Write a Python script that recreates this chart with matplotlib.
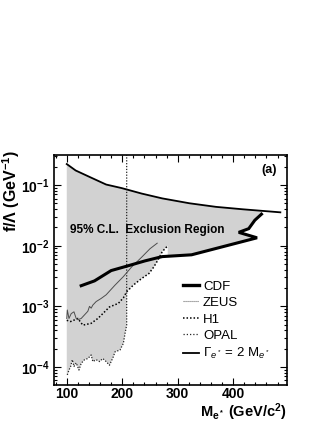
import numpy as np
from matplotlib import pyplot as plt
from matplotlib.ticker import MultipleLocator, LogLocator, FuncFormatter, NullFormatter

plt.rcParams['font.family'] = ['Liberation Sans', 'DejaVu Sans']
plt.rcParams['mathtext.fontset'] = 'custom'
plt.rcParams['mathtext.rm'] = 'Liberation Sans'
plt.rcParams['mathtext.bf'] = 'Liberation Sans:bold'
plt.rcParams['mathtext.it'] = 'Liberation Sans:italic'

# Gamma_e* = 2 M_e* (upper edge of the shaded region)
gamma_m = [100, 116, 142, 171, 199, 235, 272, 321, 369, 418, 485]
gamma_f = [0.222, 0.174, 0.135, 0.102, 0.0891, 0.0724, 0.0603, 0.0501, 0.0437, 0.0398, 0.0355]

# CDF limit
cdf_m = [126, 150, 180, 211, 241, 272, 325, 443, 410, 428, 439, 451]
cdf_f = [0.00219, 0.00263, 0.00389, 0.00468, 0.00562, 0.00661, 0.00708,
         0.0135, 0.0166, 0.0191, 0.0263, 0.0331]

# ZEUS limit
zeus_m = [100, 101, 104, 108, 113, 117, 120, 126, 138, 141, 144, 147, 153, 162, 171,
          187, 202, 217, 235, 250, 263]
zeus_f = [6.31e-4, 8.71e-4, 6.31e-4, 7.59e-4, 8.13e-4, 6.31e-4, 6.03e-4, 6.31e-4,
          8.3e-4, 1.0e-3, 9.33e-4, 1.05e-3, 1.20e-3, 1.35e-3, 1.55e-3,
          2.24e-3, 3.09e-3, 4.47e-3, 6.46e-3, 8.91e-3, 1.10e-2]

# H1 limit
h1_m = [100, 107, 120, 129, 144, 156, 165, 177, 193, 202, 208, 220, 235, 248, 257, 266, 272, 282]
h1_f = [5.89e-4, 5.62e-4, 6.31e-4, 4.90e-4, 5.25e-4, 6.31e-4, 7.59e-4, 9.77e-4, 1.12e-3,
        1.38e-3, 1.74e-3, 2.24e-3, 2.88e-3, 3.47e-3, 4.47e-3, 6.17e-3, 7.94e-3, 1.0e-2]

# OPAL limit (vertical at ~208 GeV up past the top of the frame)
opal_m = [101, 104, 107, 110, 113, 117, 122, 126, 132, 138, 144, 147, 153, 159, 165,
          171, 177, 184, 187, 196, 202, 205, 208, 208]
opal_f = [7.41e-5, 8.91e-5, 1.02e-4, 1.32e-4, 1.02e-4, 1.17e-4, 8.91e-5, 1.15e-4, 1.32e-4,
          1.38e-4, 1.58e-4, 1.23e-4, 1.32e-4, 1.23e-4, 1.38e-4, 1.23e-4, 1.07e-4, 1.48e-4,
          1.78e-4, 1.91e-4, 2.45e-4, 3.55e-4, 4.90e-4, 0.5]


def log_interp(x, xs, ys):
    return 10 ** np.interp(x, xs, np.log10(ys))


def main():
    fig = plt.figure(figsize=(3.27, 4.23), dpi=100)
    ax = fig.add_axes([54 / 327, 1 - 385 / 423, 233 / 327, 230 / 423])

    # shaded exclusion region
    om, of = np.array(opal_m[:-1]), np.array(opal_f[:-1])
    hm, hf = np.array(h1_m), np.array(h1_f)
    cm, cf = np.array(cdf_m), np.array(cdf_f)
    gm, gf = np.array(gamma_m), np.array(gamma_f)
    m_h1_end = hm[-1]
    m_end = cm[-1]
    keep = np.arange(len(cm)) >= np.searchsorted(cm[:7], m_h1_end)
    px = np.concatenate([[100], om, [om[-1]], hm[hm > om[-1]], [m_h1_end],
                         cm[keep], [m_end], gm[gm < m_end][::-1]])
    py = np.concatenate([[of[0]], of, [log_interp(om[-1], hm, hf)], hf[hm > om[-1]],
                         [log_interp(m_h1_end, cm[:7], cf[:7])], cf[keep],
                         [log_interp(m_end, gm, gf)], gf[gm < m_end][::-1]])
    ax.fill(px, py, color='#d2d2d2', lw=0, zorder=1)

    ax.plot(opal_m, opal_f, color='0.15', lw=0.9, ls=(0, (1, 1.3)), zorder=2)
    ax.plot(h1_m, h1_f, color='black', lw=1.1, ls=(0, (1, 1.3)), zorder=2)
    ax.plot(zeus_m, zeus_f, color='0.3', lw=0.7, zorder=2)
    ax.plot(gamma_m, gamma_f, color='black', lw=1.3, zorder=3)
    ax.plot(cdf_m, cdf_f, color='black', lw=2.2, solid_joinstyle='miter', zorder=3)

    # legend
    hcdf, = ax.plot([], [], color='black', lw=2.4)
    hzeus, = ax.plot([], [], color='0.45', lw=0.8, ls=(0, (1, 0.8)))
    hh1, = ax.plot([], [], color='black', lw=1.1, ls=(0, (1, 1.3)))
    hopal, = ax.plot([], [], color='0.15', lw=0.9, ls=(0, (1, 1.6)))
    hgam, = ax.plot([], [], color='black', lw=1.3)
    ax.legend([hcdf, hzeus, hh1, hopal, hgam],
              ['CDF', 'ZEUS', 'H1', 'OPAL', r'$\Gamma_{e^*}$ = 2 M$_{e^*}$'],
              loc='upper left', bbox_to_anchor=(0.555, 0.455), frameon=False,
              fontsize=9.5, handlelength=1.2, handletextpad=0.3,
              labelspacing=0.32, borderpad=0, borderaxespad=0)

    ax.text(106, 0.0184, '95% C.L.  Exclusion Region', fontsize=8.5,
            fontweight='bold', ha='left', va='center', zorder=4)
    ax.text(0.958, 0.935, '(a)', transform=ax.transAxes, fontsize=9,
            fontweight='bold', ha='right', va='center')

    ax.set_yscale('log')
    ax.set_xlim(77, 497)
    ax.set_ylim(5.05e-5, 0.313)

    ax.xaxis.set_major_locator(MultipleLocator(100))
    ax.xaxis.set_minor_locator(MultipleLocator(20))
    ax.yaxis.set_major_locator(LogLocator(base=10, numticks=10))
    ax.yaxis.set_minor_locator(LogLocator(base=10, subs=np.arange(2, 10), numticks=20))
    ax.yaxis.set_minor_formatter(NullFormatter())
    ax.yaxis.set_major_formatter(FuncFormatter(
        lambda v, p: r'$\mathbf{10^{%d}}$' % round(np.log10(v))))
    ax.tick_params(which='both', direction='in', top=True, right=True, width=0.8)
    ax.tick_params(which='major', length=5, labelsize=10, pad=3)
    ax.tick_params(axis='x', which='major', pad=1.5)
    ax.tick_params(which='minor', length=2.5)
    for lab in ax.get_xticklabels():
        lab.set_fontweight('bold')
    for s in ax.spines.values():
        s.set_linewidth(1.2)

    fig.text(11 / 327, 1 - 150 / 423, r'f/Λ (GeV$^{\mathbf{-1}}$)', rotation=90,
             fontsize=11.5, fontweight='bold', ha='center', va='top')
    fig.text(287 / 327, 1 - 412 / 423, r'M$_{\mathbf{e^*}}$ (GeV/c$^{\mathbf{2}}$)',
             fontsize=10.5, fontweight='bold', ha='right', va='center')

    fig.savefig('out.png', dpi=100)


if __name__ == '__main__':
    main()
